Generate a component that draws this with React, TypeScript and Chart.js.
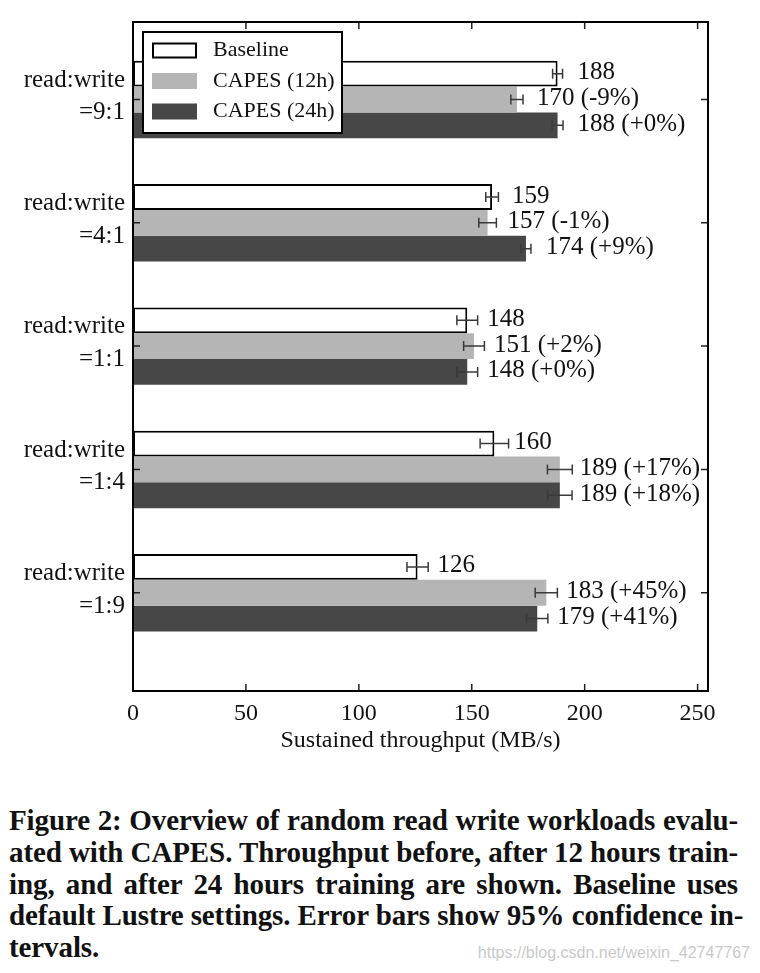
import React, { useEffect, useRef } from "react";
import { Chart, registerables } from "chart.js";

Chart.register(...registerables);

// ---------- data ----------
const groupPrefix = "read:write";
const ratioLabels = ["=9:1", "=4:1", "=1:1", "=1:4", "=1:9"];
const seriesNames = ["Baseline", "CAPES (12h)", "CAPES (24h)"];
const baseline = [188, 159, 148, 160, 126];
const capes12h = [170, 157, 151, 189, 183];
const capes24h = [188, 174, 148, 189, 179];
const baselineErr = [2.2, 2.8, 4.6, 6.3, 4.7];
const capes12hErr = [2.7, 3.9, 4.6, 5.5, 4.9];
const capes24hErr = [2.4, 2.2, 4.6, 5.4, 4.7];
const capes12hChange = ["-9%", "-1%", "+2%", "+17%", "+45%"];
const capes24hChange = ["+0%", "+9%", "+0%", "+18%", "+41%"];
const xTicks = [0, 50, 100, 150, 200, 250];
const xTitle = "Sustained throughput (MB/s)";

const captionLines = [
  "Figure 2: Overview of random read write workloads evalu-",
  "ated with CAPES. Throughput before, after 12 hours train-",
  "ing, and after 24 hours training are shown. Baseline uses",
  "default Lustre settings. Error bars show 95% confidence in-",
  "tervals.",
];
const watermark = "https://blog.csdn.net/weixin_42747767";

const SERIF = "'Liberation Serif', 'Times New Roman', serif";
const colors = ["#ffffff", "#b5b5b5", "#474747"];

const seriesValues = [baseline, capes12h, capes24h];
const seriesErrs = [baselineErr, capes12hErr, capes24hErr];
const seriesTexts = [
  baseline.map((v) => `${v}`),
  capes12h.map((v, i) => `${v} (${capes12hChange[i]})`),
  capes24h.map((v, i) => `${v} (${capes24hChange[i]})`),
];

const decorPlugin = {
  id: "decor",
  afterDatasetsDraw(chart: any) {
    const { ctx, scales } = chart;
    const x = scales.x;
    ctx.save();
    chart.data.datasets.forEach((ds: any, di: number) => {
      const meta = chart.getDatasetMeta(di);
      meta.data.forEach((bar: any, i: number) => {
        const v = seriesValues[di][i];
        const e = seriesErrs[di][i];
        const x1 = x.getPixelForValue(v - e);
        const x2 = x.getPixelForValue(v + e);
        const yc = bar.y;
        ctx.strokeStyle = "#3a3a3a";
        ctx.lineWidth = 1.5;
        ctx.beginPath();
        ctx.moveTo(x1, yc);
        ctx.lineTo(x2, yc);
        ctx.moveTo(x1, yc - 5);
        ctx.lineTo(x1, yc + 5);
        ctx.moveTo(x2, yc - 5);
        ctx.lineTo(x2, yc + 5);
        ctx.stroke();
        ctx.fillStyle = "#111";
        ctx.font = `25px ${SERIF}`;
        ctx.textAlign = "left";
        ctx.textBaseline = "middle";
        ctx.fillText(seriesTexts[di][i], x.getPixelForValue(v) + 20, yc - 1);
      });
    });
    ctx.restore();
  },
  afterDraw(chart: any) {
    const { ctx, chartArea: a, scales } = chart;
    const x = scales.x;
    const y = scales.y;
    ctx.save();
    // ticks (inward)
    ctx.strokeStyle = "#222";
    ctx.lineWidth = 1.5;
    ctx.beginPath();
    xTicks.forEach((t) => {
      if (t === 0) return;
      const px = x.getPixelForValue(t);
      ctx.moveTo(px, a.top);
      ctx.lineTo(px, a.top + 7);
      ctx.moveTo(px, a.bottom);
      ctx.lineTo(px, a.bottom - 7);
    });
    ratioLabels.forEach((_, i) => {
      const py = y.getPixelForValue(i);
      ctx.moveTo(a.left, py);
      ctx.lineTo(a.left + 7, py);
      ctx.moveTo(a.right, py);
      ctx.lineTo(a.right - 7, py);
    });
    ctx.stroke();
    // frame
    ctx.strokeStyle = "#000";
    ctx.lineWidth = 2;
    ctx.strokeRect(a.left, a.top, a.right - a.left, a.bottom - a.top);
    // legend
    const lx = a.left + 10;
    const ly = a.top + 10;
    const lw = 199;
    const lh = 101;
    ctx.fillStyle = "#fff";
    ctx.fillRect(lx, ly, lw, lh);
    ctx.strokeStyle = "#000";
    ctx.lineWidth = 2;
    ctx.strokeRect(lx, ly, lw, lh);
    chart.data.datasets.forEach((ds: any, di: number) => {
      const cy = ly + 18.5 + di * 30.5;
      ctx.fillStyle = ds.backgroundColor;
      ctx.fillRect(lx + 9, cy - 8, 45, 16);
      if (ds.borderWidth) {
        ctx.strokeStyle = ds.borderColor;
        ctx.lineWidth = 2;
        ctx.strokeRect(lx + 10, cy - 7, 43, 14);
      }
      ctx.fillStyle = "#111";
      ctx.font = `22px ${SERIF}`;
      ctx.textAlign = "left";
      ctx.textBaseline = "middle";
      ctx.fillText(ds.label, lx + 70, cy);
    });
    ctx.restore();
  },
};

function BarChart() {
  const ref = useRef<HTMLCanvasElement | null>(null);
  useEffect(() => {
    if (!ref.current) return;
    const chart = new Chart(ref.current, {
      type: "bar",
      data: {
        datasets: seriesNames.map((name, di) => ({
          label: name,
          data: seriesValues[di].map((v, i) => ({ x: v, y: i })),
          backgroundColor: colors[di],
          borderColor: di === 0 ? "#000" : colors[di],
          borderWidth: di === 0 ? 2 : 0,
          borderSkipped: false,
          barPercentage: 1,
          categoryPercentage: 0.628,
        })),
      },
      options: {
        indexAxis: "y",
        responsive: false,
        animation: false,
        devicePixelRatio: 1,
        layout: { padding: { top: 22, right: 52, left: 0, bottom: 0 } },
        plugins: { legend: { display: false }, tooltip: { enabled: false } },
        scales: {
          x: {
            type: "linear",
            min: 0,
            max: 254.6,
            offset: false,
            afterBuildTicks: (s: any) => {
              s.ticks = xTicks.map((v) => ({ value: v }));
            },
            afterFit: (s: any) => {
              s.height = 89;
              s.paddingLeft = 0;
              s.paddingRight = 0;
            },
            grid: { display: false, drawTicks: false, offset: false },
            border: { display: false },
            ticks: {
              padding: 8,
              color: "#111",
              font: { family: SERIF, size: 24 },
              maxRotation: 0,
              autoSkip: false,
            },
            title: {
              display: true,
              text: xTitle,
              color: "#111",
              font: { family: SERIF, size: 24 },
              padding: { top: 0, bottom: 25 },
            },
          },
          y: {
            type: "linear",
            reverse: true,
            min: -0.6286,
            max: 4.797,
            offset: false,
            bounds: "data",
            grace: 0,
            afterBuildTicks: (s: any) => {
              s.ticks = ratioLabels.map((_, i) => ({ value: i }));
            },
            afterFit: (s: any) => {
              s.width = 133;
              s.paddingTop = 0;
              s.paddingBottom = 0;
            },
            grid: { display: false, drawTicks: false, offset: false },
            border: { display: false },
            ticks: {
              padding: 8,
              labelOffset: -3,
              color: "#111",
              autoSkip: false,
              font: { family: SERIF, size: 25, lineHeight: 1.3 },
              callback: (value: any) => [groupPrefix, ratioLabels[Math.round(value)]],
            },
          },
        },
      },
      plugins: [decorPlugin],
    } as any);
    return () => chart.destroy();
  }, []);
  return <canvas ref={ref} width={760} height={780} style={{ display: "block" }} />;
}

export default function App() {
  return (
    <div
      style={{
        position: "absolute",
        left: 0,
        top: 0,
        width: 760,
        height: 973,
        background: "#fff",
        overflow: "hidden",
      }}
    >
      <BarChart />
      <div
        style={{
          position: "absolute",
          left: 9,
          top: 805,
          width: 729,
          fontFamily: SERIF,
          fontWeight: "bold",
          fontSize: 29,
          letterSpacing: "-0.1px",
          lineHeight: "31.75px",
          color: "#111",
        }}
      >
        {captionLines.map((line, i) => (
          <div
            key={i}
            style={{
              textAlign: i === captionLines.length - 1 ? "left" : "justify",
              textAlignLast: i === captionLines.length - 1 ? "left" : "justify",
              whiteSpace: "nowrap",
            }}
          >
            {line}
          </div>
        ))}
      </div>
      <div
        style={{
          position: "absolute",
          right: 10,
          top: 944,
          fontFamily: "'Liberation Sans', Arial, sans-serif",
          fontSize: 16,
          color: "#c9c9c9",
        }}
      >
        {watermark}
      </div>
    </div>
  );
}
